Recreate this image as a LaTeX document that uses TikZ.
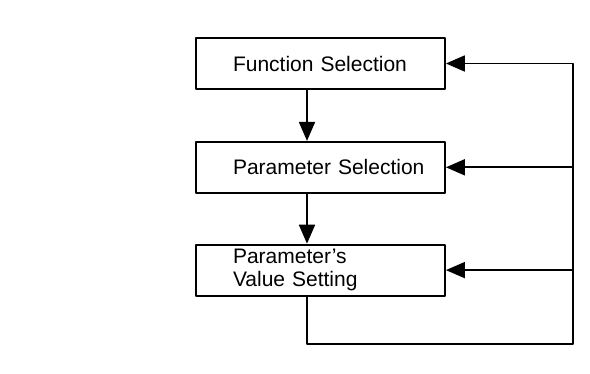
\documentclass[tikz,border=0pt]{standalone}
\usepackage{fontspec}
\setmainfont{Liberation Sans}
\usetikzlibrary{positioning,arrows.meta}
\begin{document}
\begin{tikzpicture}[x=1pt,y=-1pt,line join=round,
		stage/.style={draw,line width=1.8pt,minimum width=249pt,minimum height=51pt,
			text width=175pt,inner xsep=37pt,inner ysep=2pt,align=left,
			font=\fontsize{21}{23}\selectfont},
		flow/.style={line width=1.8pt,-{Triangle[length=19pt,width=16pt]}}]
		\useasboundingbox (0,0) rectangle (590,373);
		\node[stage] (fsel) at (320.5,63.5) {\mbox{Function Selection}};
		\node[stage,below=51pt of fsel] (psel) {\mbox{Parameter Selection}};
		\node[stage,below=50pt of psel] (vset) {Parameter's\\Value Setting};
		\coordinate (rb) at (573,344);
		\draw[flow] ([xshift=-13.5pt]fsel.south) -- ([xshift=-13.5pt]psel.north);
		\draw[flow] ([xshift=-13.5pt]psel.south) -- ([xshift=-13.5pt]vset.north);
		\draw[flow] ([xshift=-13.5pt]vset.south) |- (rb) |- (fsel.east);
		\draw[flow] (rb |- psel.east) -- (psel.east);
		\draw[flow] (rb |- vset.east) -- (vset.east);
\end{tikzpicture}
\end{document}
